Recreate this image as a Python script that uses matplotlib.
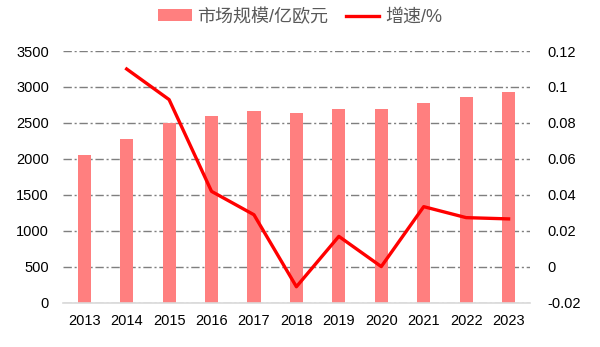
import numpy as np
import matplotlib.pyplot as plt
from matplotlib.ticker import FixedLocator

plt.rcParams['font.family'] = ['Liberation Sans', 'Noto Sans CJK SC', 'DejaVu Sans']

years = ['2013', '2014', '2015', '2016', '2017', '2018', '2019', '2020', '2021', '2022', '2023']
market = [2056, 2278, 2496, 2602, 2671, 2639, 2690, 2690, 2778, 2856, 2930]
growth_years = years[1:]
growth = [0.110, 0.093, 0.042, 0.029, -0.011, 0.017, 0.0002, 0.0335, 0.0274, 0.0267]

left_ticks = [0, 500, 1000, 1500, 2000, 2500, 3000, 3500]
right_ticks = [-0.02, 0, 0.02, 0.04, 0.06, 0.08, 0.1, 0.12]
right_labels = ['-0.02', '0', '0.02', '0.04', '0.06', '0.08', '0.1', '0.12']

fig = plt.figure(figsize=(6, 3.47), dpi=100)
ax = fig.add_axes([0.105, 0.127, 0.778, 0.726])
x = np.arange(len(years))
bars = ax.bar(x, market, width=0.31, color='#FF7F7F', zorder=2, label='市场规模/亿欧元')
ax.set_xlim(-0.5, len(years) - 0.5)
ax.set_ylim(0, 3500)
ax.yaxis.set_major_locator(FixedLocator(left_ticks))
ax.set_xticks(x)
ax.set_xticklabels(years)
ax.grid(axis='y', color='#7F7F7F', linestyle='-.', linewidth=1, dashes=(6, 2, 1.5, 2), zorder=0)
for s in ['top', 'left', 'right']:
    ax.spines[s].set_visible(False)
ax.spines['bottom'].set_color('#D9D9D9')
ax.spines['bottom'].set_linewidth(1.2)
ax.tick_params(axis='both', length=0, labelsize=10.5, colors='#000000')
ax.tick_params(axis='x', pad=8)
ax.tick_params(axis='y', pad=10)

ax2 = ax.twinx()
gx = np.arange(1, len(years))
line, = ax2.plot(gx, growth, color='#FF0000', linewidth=2.4, zorder=3, label='增速/%')
ax2.set_ylim(-0.02, 0.12)
ax2.set_yticks(right_ticks)
ax2.set_yticklabels(right_labels)
for s in ['top', 'left', 'right', 'bottom']:
    ax2.spines[s].set_visible(False)
ax2.tick_params(axis='y', length=0, labelsize=10.5, colors='#000000', pad=13)

leg = fig.legend([bars, line], ['市场规模/亿欧元', '增速/%'], loc='center',
                 bbox_to_anchor=(0.5, 1 - 17 / 347), ncol=2, frameon=False, fontsize=13,
                 handlelength=1.85, handleheight=0.65, columnspacing=1.0, handletextpad=0.3,
                 borderpad=0)
for t in leg.get_texts():
    t.set_color('#595959')

fig.savefig('out.png', dpi=100)
